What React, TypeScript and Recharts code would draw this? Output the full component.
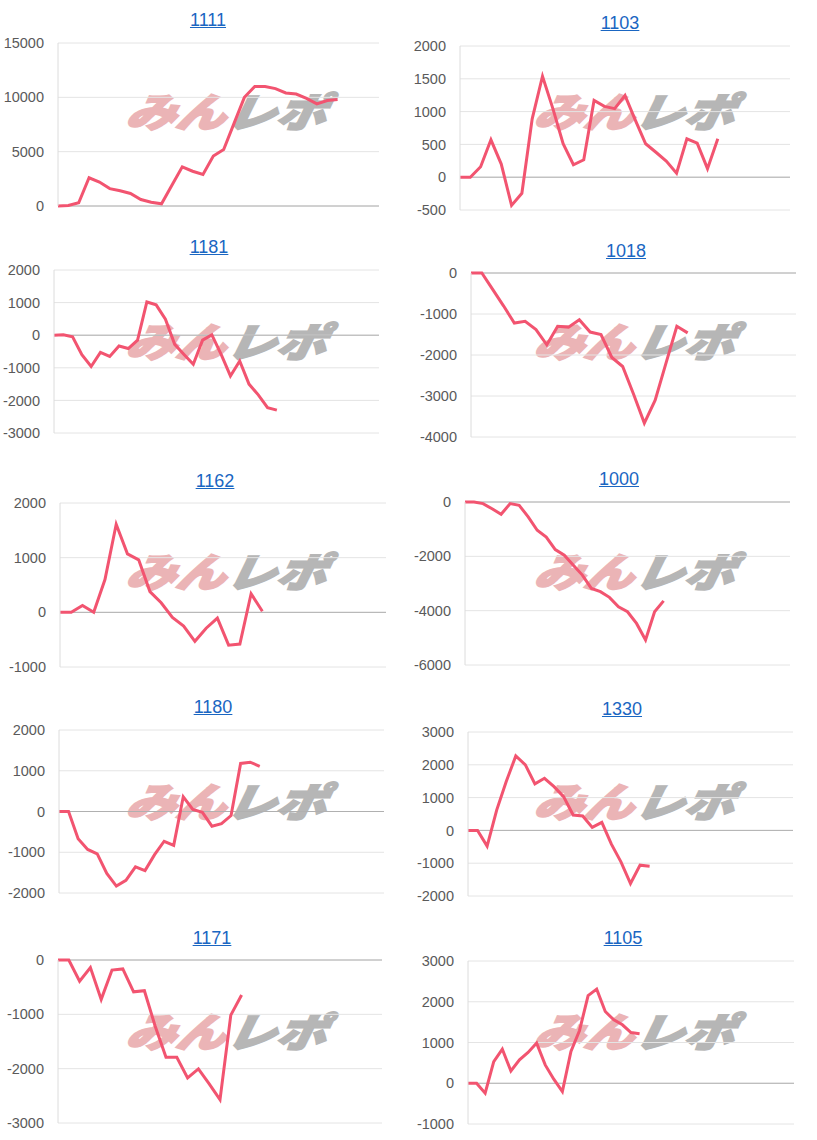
import { CartesianGrid, Line, LineChart, ReferenceLine, XAxis, YAxis } from "recharts";

// chart titles (machine numbers)
const codes = ["1111", "1103", "1181", "1018", "1162", "1000", "1180", "1330", "1171", "1105"];

// balance per day
const s1111 = [0, 50, 300, 2600, 2200, 1600, 1400, 1150, 600, 350, 200, 1900, 3600, 3200, 2900, 4600, 5200, 7600, 10000, 11000, 11000, 10800, 10400, 10300, 9900, 9400, 9700, 9800];
const s1103 = [0, 0, 160, 570, 200, -430, -245, 890, 1540, 1050, 510, 190, 265, 1170, 1080, 1045, 1245, 870, 510, 380, 245, 60, 585, 520, 130, 585];
const s1181 = [0, 10, -50, -600, -960, -530, -650, -330, -410, -150, 1020, 930, 490, -280, -590, -890, -150, 10, -590, -1250, -790, -1500, -1830, -2220, -2300];
const s1018 = [0, 0, -400, -800, -1220, -1180, -1380, -1750, -1300, -1320, -1140, -1440, -1500, -2060, -2280, -2950, -3660, -3100, -2200, -1300, -1460];
const s1162 = [0, 0, 125, 0, 600, 1610, 1070, 960, 380, 175, -95, -250, -530, -290, -105, -600, -580, 340, 20];
const s1000 = [0, 0, -60, -250, -450, -60, -120, -550, -1040, -1290, -1750, -1960, -2330, -2690, -3180, -3300, -3510, -3860, -4040, -4470, -5080, -4040, -3640];
const s1180 = [0, 0, -670, -930, -1040, -1520, -1830, -1690, -1360, -1450, -1060, -730, -830, 360, 50, -20, -360, -300, -100, 1180, 1210, 1110];
const s1330 = [0, 0, -480, 620, 1490, 2270, 2000, 1420, 1590, 1335, 1030, 470, 440, 90, 245, -420, -960, -1620, -1060, -1090];
const s1171 = [0, 0, -390, -140, -725, -185, -165, -585, -565, -1220, -1790, -1790, -2170, -2005, -2280, -2570, -1015, -645];
const s1105 = [0, 0, -245, 530, 835, 300, 575, 755, 985, 450, 100, -205, 780, 1295, 2150, 2310, 1760, 1555, 1435, 1245, 1215];

const series = [s1111, s1103, s1181, s1018, s1162, s1000, s1180, s1330, s1171, s1105];

// y tick labels
const yTicks = [
  [0, 5000, 10000, 15000],
  [-500, 0, 500, 1000, 1500, 2000],
  [-3000, -2000, -1000, 0, 1000, 2000],
  [-4000, -3000, -2000, -1000, 0],
  [-1000, 0, 1000, 2000],
  [-6000, -4000, -2000, 0],
  [-2000, -1000, 0, 1000, 2000],
  [-2000, -1000, 0, 1000, 2000, 3000],
  [-3000, -2000, -1000, 0],
  [-1000, 0, 1000, 2000, 3000],
];

// length of the hidden x axis for each chart
const xMax = [31, 32, 35, 30, 29, 36, 34, 34, 30, 38];

// plot box and title position inside each 408x230 cell
const layout = [
  { l: 58, r: 379, t: 43, b: 206, tx: 208, ty: 20 },
  { l: 52, r: 382, t: 46, b: 210, tx: 212, ty: 23 },
  { l: 54, r: 379, t: 40, b: 203, tx: 209, ty: 17 },
  { l: 63, r: 388, t: 43, b: 207, tx: 218, ty: 21 },
  { l: 60, r: 386, t: 43, b: 207, tx: 215, ty: 21 },
  { l: 57, r: 382, t: 42, b: 205, tx: 211, ty: 19 },
  { l: 59, r: 384, t: 40, b: 203, tx: 213, ty: 17 },
  { l: 60, r: 385, t: 42, b: 206, tx: 214, ty: 19 },
  { l: 58, r: 382, t: 40, b: 203, tx: 212, ty: 18 },
  { l: 60, r: 386, t: 41, b: 204, tx: 215, ty: 18 },
];

const CELL_W = 408;
const CELL_H = 230;
const FONT = "Arial, 'Liberation Sans', sans-serif";

const Watermark = () => (
  <div
    style={{
      position: "absolute",
      left: 131,
      top: 90,
      fontFamily: "'Noto Sans CJK JP', sans-serif",
      fontWeight: 900,
      fontStyle: "italic",
      fontSize: 40,
      lineHeight: 1,
      letterSpacing: 0,
      transform: "scaleX(1.25) skewX(-8deg)",
      transformOrigin: "left top",
      whiteSpace: "nowrap",
    }}
  >
    <span style={{ color: "#ebb4b6", WebkitTextStroke: "2px #ebb4b6" }}>みん</span>
    <span style={{ color: "#b6b6b6", WebkitTextStroke: "2px #b6b6b6" }}>レポ</span>
  </div>
);

const MiniChart = ({ idx }: { idx: number }) => {
  const box = layout[idx];
  const ticks = yTicks[idx];
  const data = series[idx].map((v, i) => ({ x: i, v }));
  const col = idx % 2;
  const row = Math.floor(idx / 2);
  return (
    <div
      style={{
        position: "absolute",
        left: col * CELL_W,
        top: row * CELL_H,
        width: CELL_W,
        height: CELL_H,
      }}
    >
      <a
        href="#"
        style={{
          position: "absolute",
          left: box.tx,
          top: box.ty,
          transform: "translate(-50%, -50%)",
          fontFamily: FONT,
          fontSize: 18,
          color: "#1a66c2",
          textDecoration: "underline",
          lineHeight: 1,
        }}
      >
        {codes[idx]}
      </a>
      <Watermark />
      <div style={{ position: "absolute", left: 0, top: 0 }}>
        <LineChart
          width={CELL_W}
          height={CELL_H}
          data={data}
          margin={{ top: box.t, bottom: CELL_H - box.b, left: 0, right: CELL_W - box.r }}
        >
          <CartesianGrid vertical={false} stroke="#e4e4e4" />
          <XAxis dataKey="x" type="number" domain={[0, xMax[idx]]} hide />
          <YAxis
            type="number"
            width={box.l}
            domain={[ticks[0], ticks[ticks.length - 1]]}
            ticks={ticks}
            interval={0}
            tickLine={false}
            tickSize={0}
            tickMargin={14}
            axisLine={{ stroke: "#dcdcdc" }}
            tick={{ fill: "#5a5a5a", fontSize: 14.5, fontFamily: FONT }}
          />
          <ReferenceLine y={0} stroke="#b0b0b0" />
          <Line
            type="linear"
            dataKey="v"
            stroke="#f25470"
            strokeWidth={3}
            dot={false}
            isAnimationActive={false}
          />
        </LineChart>
      </div>
    </div>
  );
}

export default function App() {
  return (
    <div
      style={{
        position: "absolute",
        left: 0,
        top: 0,
        width: 817,
        height: 1140,
        background: "#fff",
        overflow: "hidden",
      }}
    >
      {codes.map((c, i) => (
        <MiniChart key={c} idx={i} />
      ))}
    </div>
  );
}
